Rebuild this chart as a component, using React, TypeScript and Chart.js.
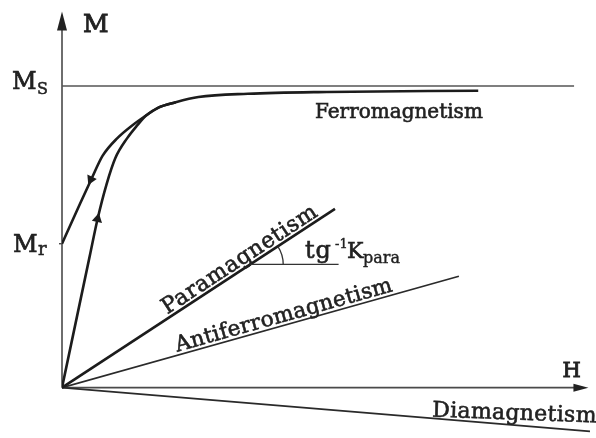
import React, { useEffect, useRef } from "react";
import { Chart, registerables } from "chart.js";

Chart.register(...registerables);

// Field H (arbitrary units, 0..~100) and magnetisation M (normalised, Ms = 1)
const initialH = [0, 5.38, 6.92, 8.65, 10.38, 12.69, 14.62, 16.35, 18.85, 22.12, 26.54, 36.15, 51.54, 80.96];
const initialM = [0, 0.435, 0.559, 0.673, 0.761, 0.827, 0.869, 0.902, 0.929, 0.946, 0.963, 0.974, 0.98, 0.984];

const returnH = [0, 3.46, 5.77, 7.88, 10.77, 13.65, 16.35, 18.85, 22.12];
const returnM = [0.477, 0.608, 0.693, 0.768, 0.827, 0.869, 0.902, 0.929, 0.946];

const paraH = [0, 53.1];
const paraM = [0, 0.5925];
const antiH = [0, 77.2];
const antiM = [0, 0.369];
const diaH = [0, 102.7];
const diaM = [0, -0.145];

const MS = 1.0;
const MR = 0.477;
const msLineH = [0, 99.6];

const upArrowH = [6.92];
const upArrowM = [0.559];
const downArrowH = [5.6];
const downArrowM = [0.69];

const axisTopM = 1.24;
const axisEndH = 102.4;

const tgLineM = 0.4085;
const tgLineEndH = 53.8;

const INK = "#1c1c1c";
const TEXT = "#222";
const AXIS = "#4a4a4a";
const SERIF = '"DejaVu Serif", "Liberation Serif", serif';

const pts = (h: number[], m: number[]) => h.map((x, i) => ({ x, y: m[i] }));

export default function App() {
  const ref = useRef<HTMLCanvasElement>(null);

  useEffect(() => {
    const canvas = ref.current!;

    const drawPlugin = {
      id: "figureDecor",
      beforeDatasetsDraw(chart: any) {
        const ctx = chart.ctx;
        const xs = chart.scales.x;
        const ys = chart.scales.y;
        const px = (h: number) => xs.getPixelForValue(h);
        const py = (m: number) => ys.getPixelForValue(m);
        const ox = px(0);
        const oy = py(0);
        ctx.save();
        ctx.strokeStyle = AXIS;
        ctx.fillStyle = "#222";
        ctx.lineWidth = 1.6;
        // y axis
        const topY = py(axisTopM);
        ctx.beginPath();
        ctx.moveTo(ox, oy);
        ctx.lineTo(ox, topY + 8);
        ctx.stroke();
        ctx.beginPath();
        ctx.moveTo(ox, topY - 2);
        ctx.lineTo(ox - 5, topY + 17);
        ctx.lineTo(ox + 5, topY + 17);
        ctx.closePath();
        ctx.fill();
        // x axis
        const endX = px(axisEndH);
        ctx.beginPath();
        ctx.moveTo(ox, oy);
        ctx.lineTo(endX - 6, oy);
        ctx.stroke();
        ctx.beginPath();
        ctx.moveTo(endX, oy);
        ctx.lineTo(endX - 15, oy - 4);
        ctx.lineTo(endX - 15, oy + 4);
        ctx.closePath();
        ctx.fill();
        // small tick at Mr
        ctx.lineWidth = 1.4;
        ctx.beginPath();
        ctx.moveTo(ox - 3, py(MR));
        ctx.lineTo(ox, py(MR));
        ctx.stroke();
        ctx.restore();
      },
      afterDatasetsDraw(chart: any) {
        const ctx = chart.ctx;
        const xs = chart.scales.x;
        const ys = chart.scales.y;
        const px = (h: number) => xs.getPixelForValue(h);
        const py = (m: number) => ys.getPixelForValue(m);
        const ox = px(0);
        const oy = py(0);
        ctx.save();
        ctx.fillStyle = TEXT;
        ctx.strokeStyle = TEXT;
        ctx.textBaseline = "alphabetic";

        const text = (
          s: string,
          x: number,
          y: number,
          size: number,
          ls = 0,
          align: CanvasTextAlign = "left",
          weight = 0.6
        ) => {
          ctx.font = `normal ${size}px ${SERIF}`;
          (ctx as any).letterSpacing = `${ls}px`;
          ctx.textAlign = align;
          ctx.fillText(s, x, y);
          if (weight > 0) {
            ctx.lineWidth = weight;
            ctx.strokeText(s, x, y);
          }
          (ctx as any).letterSpacing = "0px";
        };

        // axis labels
        text("M", ox + 21, py(axisTopM) + 19, 25, 0, "left", 0.9);
        text("H", px(axisEndH) - 26, oy - 11, 21, 0, "left", 0.9);
        // Ms, Mr
        text("M", ox - 50, py(MS) + 3, 24, 0, "left", 0.7);
        text("S", ox - 25, py(MS) + 8, 16, 0, "left", 0.5);
        text("M", ox - 49, py(MR) + 8, 24, 0, "left", 0.7);
        text("r", ox - 24, py(MR) + 11, 18, 0, "left", 0.5);

        // Ferromagnetism
        text("Ferromagnetism", 315, py(MS) + 32, 20);

        // rotated line labels
        const lineLabel = (
          s: string,
          h1: number,
          m1: number,
          frac: number,
          off: number,
          size: number,
          ls: number
        ) => {
          const x1 = px(h1),
            y1 = py(m1);
          const a = Math.atan2(y1 - oy, x1 - ox);
          const cx = ox + (x1 - ox) * frac + Math.sin(a) * off;
          const cy = oy + (y1 - oy) * frac - Math.cos(a) * off;
          ctx.save();
          ctx.translate(cx, cy);
          ctx.rotate(a);
          text(s, ls / 2, 0, size, ls, "center");
          ctx.restore();
        };
        lineLabel("Paramagnetism", paraH[1], paraM[1], 0.67, 3.5, 22, 0.6);
        lineLabel("Antiferromagnetism", antiH[1], antiM[1], 0.565, 3.5, 21.5, 0.3);

        // Diamagnetism (slightly tilted)
        ctx.save();
        ctx.translate(432, oy + 29);
        ctx.rotate((2 * Math.PI) / 180);
        text("Diamagnetism", 0, 0, 22, 0.3);
        ctx.restore();

        // tg^-1 K_para annotation with angle mark
        const yL = py(tgLineM);
        const xInt = px((tgLineM / paraM[1]) * paraH[1]);
        ctx.lineWidth = 1.3;
        ctx.strokeStyle = "#333";
        ctx.beginPath();
        ctx.moveTo(xInt, yL);
        ctx.lineTo(px(tgLineEndH), yL);
        ctx.stroke();
        const ang = Math.atan2(py(paraM[1]) - oy, px(paraH[1]) - ox);
        ctx.beginPath();
        ctx.arc(xInt, yL, 33, ang, 0);
        ctx.stroke();
        ctx.strokeStyle = TEXT;
        text("tg", 305, yL - 6, 24, 0.8);
        text("-1", 335, yL - 16, 13, 0, "left", 0.4);
        text("K", 347, yL - 6, 22);
        text("para", 363, yL - 1, 16, 0, "left", 0.4);

        ctx.restore();
      },
    };

    const chart = new Chart(canvas, {
      type: "scatter",
      data: {
        datasets: [
          {
            label: "Ms",
            data: pts(msLineH, [MS, MS]),
            showLine: true,
            borderColor: "#555",
            borderWidth: 1.5,
            pointRadius: 0,
          },
          {
            label: "Initial magnetisation",
            data: pts(initialH, initialM),
            showLine: true,
            borderColor: INK,
            borderWidth: 2.6,
            pointRadius: 0,
            cubicInterpolationMode: "monotone",
          },
          {
            label: "Return branch",
            data: pts(returnH, returnM),
            showLine: true,
            borderColor: INK,
            borderWidth: 2.6,
            pointRadius: 0,
            cubicInterpolationMode: "monotone",
          },
          {
            label: "Paramagnetism",
            data: pts(paraH, paraM),
            showLine: true,
            borderColor: INK,
            borderWidth: 2.6,
            pointRadius: 0,
          },
          {
            label: "Antiferromagnetism",
            data: pts(antiH, antiM),
            showLine: true,
            borderColor: "#2a2a2a",
            borderWidth: 1.7,
            pointRadius: 0,
          },
          {
            label: "Diamagnetism",
            data: pts(diaH, diaM),
            showLine: true,
            borderColor: "#2a2a2a",
            borderWidth: 1.8,
            pointRadius: 0,
            clip: false,
          },
          {
            label: "up arrow",
            data: pts(upArrowH, upArrowM),
            pointStyle: "triangle",
            rotation: 12,
            radius: 6,
            backgroundColor: INK,
            borderWidth: 0,
          },
          {
            label: "down arrow",
            data: pts(downArrowH, downArrowM),
            pointStyle: "triangle",
            rotation: 205,
            radius: 6,
            backgroundColor: INK,
            borderWidth: 0,
          },
        ],
      },
      options: {
        animation: false,
        responsive: false,
        events: [],
        layout: { padding: { left: 62, top: 15, right: 0, bottom: 0 } },
        scales: {
          x: { type: "linear", display: false, min: 0, max: 102.7 },
          y: { type: "linear", display: false, min: -0.147, max: 1.235 },
        },
        plugins: {
          legend: { display: false },
          tooltip: { enabled: false },
        },
      },
      plugins: [drawPlugin],
    } as any);

    return () => chart.destroy();
  }, []);

  return (
    <div style={{ position: "fixed", left: 0, top: 0, width: 596, height: 438, background: "#fff" }}>
      <canvas ref={ref} width={596} height={438} style={{ display: "block" }} />
    </div>
  );
}
